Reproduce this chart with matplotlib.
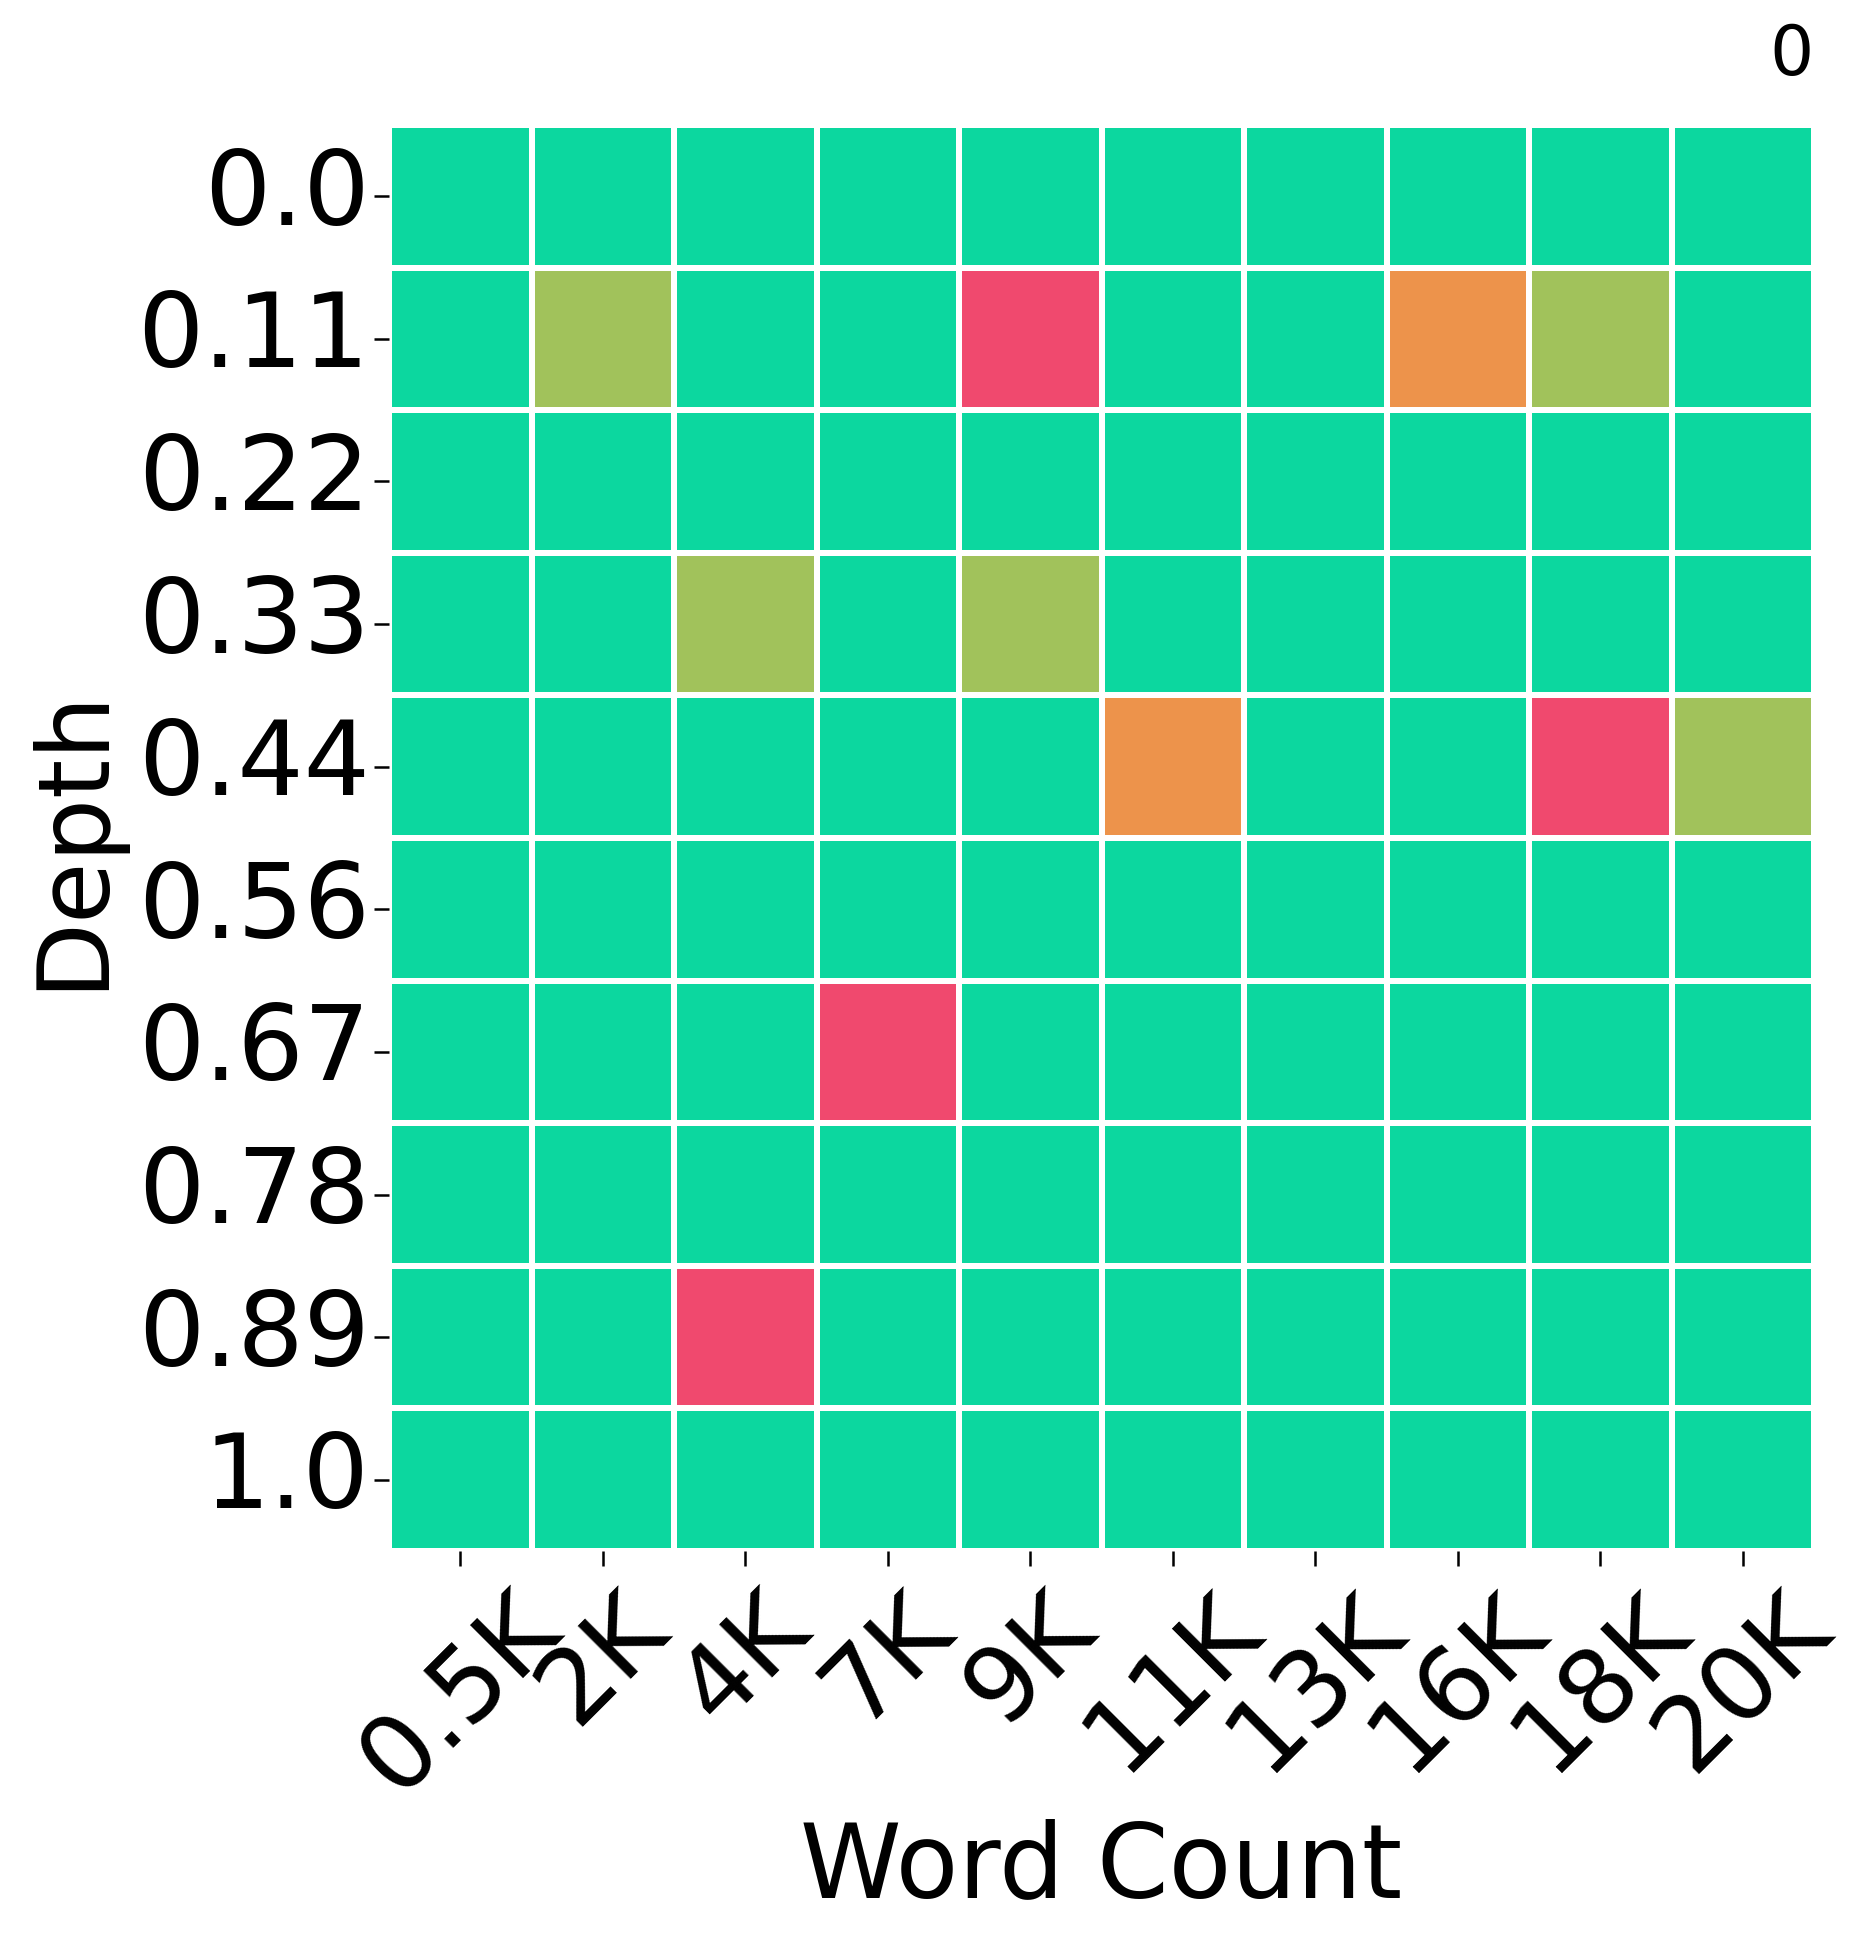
import numpy as np
import matplotlib
matplotlib.use("Agg")
import matplotlib.pyplot as plt
from matplotlib.colors import LinearSegmentedColormap
import seaborn as sns

depths = ["0.0", "0.11", "0.22", "0.33", "0.44", "0.56", "0.67", "0.78", "0.89", "1.0"]
word_counts = ["0.5K", "2K", "4K", "7K", "9K", "11K", "13K", "16K", "18K", "20K"]

# scores per cell (rows = depth, cols = word count)
scores = np.array([
    [10, 10, 10, 10, 10, 10, 10, 10, 10, 10],
    [10, 7, 10, 10, 1, 10, 10, 4, 7, 10],
    [10, 10, 10, 10, 10, 10, 10, 10, 10, 10],
    [10, 10, 7, 10, 7, 10, 10, 10, 10, 10],
    [10, 10, 10, 10, 10, 4, 10, 10, 1, 7],
    [10, 10, 10, 10, 10, 10, 10, 10, 10, 10],
    [10, 10, 10, 1, 10, 10, 10, 10, 10, 10],
    [10, 10, 10, 10, 10, 10, 10, 10, 10, 10],
    [10, 10, 1, 10, 10, 10, 10, 10, 10, 10],
    [10, 10, 10, 10, 10, 10, 10, 10, 10, 10],
])

cmap = LinearSegmentedColormap.from_list("custom_cmap", ["#F0496E", "#EBB839", "#0CD79F"])

fig = plt.figure(figsize=(9.35, 9.72), dpi=200)
ax = fig.add_axes([389 / 1870, 1 - 1551 / 1944, 1425 / 1870, 1426 / 1944])

sns.heatmap(scores, ax=ax, cmap=cmap, vmin=1, vmax=10, cbar=False,
            linewidths=2, linecolor="white",
            xticklabels=word_counts, yticklabels=depths)

ax.tick_params(axis="both", labelsize=37.5, length=5.5, width=0.9)
ax.tick_params(axis="y", pad=1.5)
plt.setp(ax.get_xticklabels(), rotation=45, ha="center")
plt.setp(ax.get_yticklabels(), rotation=0)
ax.set_xlabel("Word Count", fontsize=37, labelpad=2)
ax.set_ylabel("Depth", fontsize=36, labelpad=6)

ax.text(1.0, 1.025, "0", transform=ax.transAxes, ha="right", va="bottom", fontsize=25)

fig.savefig("out.png", dpi=200)
